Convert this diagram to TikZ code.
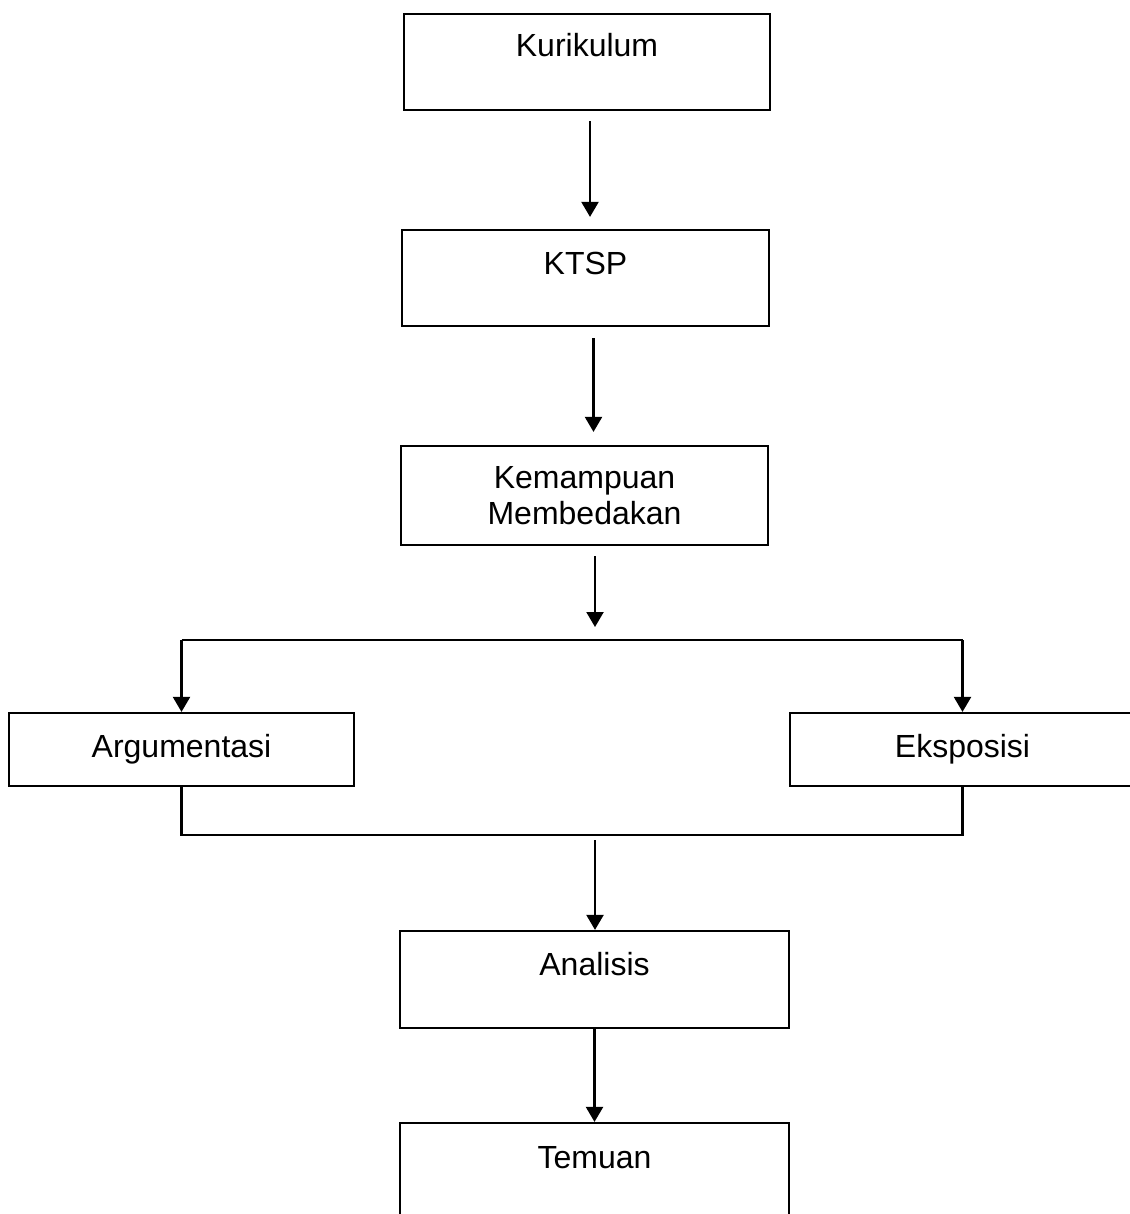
\documentclass[tikz,border=0pt]{standalone}
\usepackage{fontspec}
\setmainfont{Liberation Sans}
\usetikzlibrary{positioning,arrows.meta}

\tikzset{
  box/.style={draw, line width=1.1pt, inner sep=0pt, align=center,
    font=\fontsize{16}{18}\selectfont},
  arr/.style={line width=1.1pt, -{Triangle[length=7.5pt,width=8.5pt]}},
  link/.style={line width=1.1pt}
}

\begin{document}
\begin{tikzpicture}[x=0.5pt,y=-0.5pt]
		\useasboundingbox (0,0) rectangle (1129,1214);
		
		\node[box, minimum width=183pt, text height=21.5pt, text depth=26.5pt] (kur) at (587,62) {Kurikulum};
		\node[box, minimum width=183.5pt, text height=22pt, text depth=26pt] (ktsp) at (585.5,278) {KTSP};
		\node[box, minimum width=183.5pt, minimum height=49.5pt] (kem) at (584.5,495.5) {Kemampuan\\Membedakan};
		
		\node[box, minimum width=172.5pt, minimum height=36.5pt] (arg) at (181.5,749.5) {Argumentasi};
		\node[box, minimum width=172.5pt, minimum height=36.5pt] (eks) at (962.5,749.5) {Eksposisi};
		
		\node[box, minimum width=194.5pt, text height=22pt, text depth=26.5pt] (ana) at (594.5,979.5) {Analisis};
		\node[box, minimum width=194.5pt, text height=22.5pt, text depth=25.5pt] (tem) at (594.5,1171) {Temuan};
		
		\coordinate (split) at (595,640);
		\coordinate (merge) at (595,835);
		
		\draw[arr, shorten <=5pt, shorten >=6pt] ([xshift=1.5pt]kur.south) -- ([xshift=1.5pt]kur.south |- ktsp.north);
		\draw[arr, shorten <=5.5pt, shorten >=6.5pt] ([xshift=4pt]ktsp.south) -- ([xshift=4pt]ktsp.south |- kem.north);
		\draw[arr, shorten <=5pt, shorten >=6.5pt] (split |- kem.south) -- (split);
		
		\draw[link] (split -| arg) -- (split -| eks);
		\draw[arr] (split -| arg) -- (arg.north);
		\draw[arr] (split -| eks) -- (eks.north);
		
		\draw[link] (arg.south) |- (merge) -| (eks.south);
		\draw[arr, shorten <=2.5pt] (merge) -- (merge |- ana.north);
		\draw[arr] (ana.south) -- (tem.north);
	\end{tikzpicture}
\end{document}
